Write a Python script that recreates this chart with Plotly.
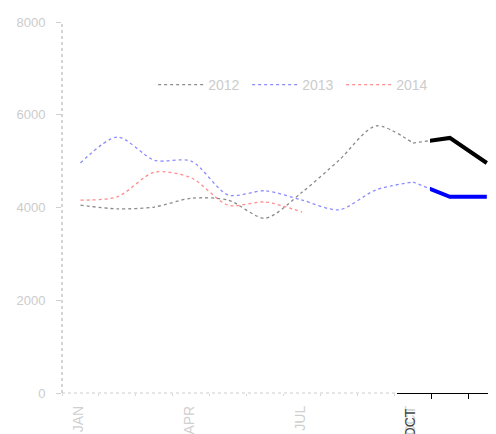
import plotly.graph_objects as go

months = ["JAN", "FEB", "MAR", "APR", "MAY", "JUN", "JUL", "AUG", "SEP", "OCT", "NOV", "DEC"]
years = ["2012", "2013", "2014"]
values_2012 = [4050, 3970, 4010, 4200, 4160, 3770, 4330, 5020, 5760, 5390, 5500, 4960]
values_2013 = [4960, 5520, 5020, 5000, 4270, 4360, 4160, 3950, 4380, 4550, 4230, 4230]
values_2014 = [4160, 4230, 4760, 4640, 4050, 4120, 3900]
y_ticks = [0, 2000, 4000, 6000, 8000]
label_months = ["JAN", "APR", "JUL", "OCT"]
highlight_months = ["OCT", "NOV", "DEC"]

idx = {m: i for i, m in enumerate(months)}
colors = {"2012": "black", "2013": "blue", "2014": "red"}
series = {"2012": values_2012, "2013": values_2013, "2014": values_2014}

FONT = "Liberation Sans, Arial, sans-serif"
fig = go.Figure()

last_dotted = idx["OCT"]
for yr in years:
    vals = series[yr]
    n = min(len(vals), last_dotted + 1)
    fig.add_trace(go.Scatter(
        x=list(range(n)), y=vals[:n], mode="lines", name=yr,
        line=dict(color=colors[yr], width=1.3, dash="dot", shape="spline", smoothing=0.8),
        opacity=0.45, hoverinfo="skip"))
    if len(vals) > last_dotted + 1:
        xs = list(range(last_dotted, len(vals)))
        fig.add_trace(go.Scatter(
            x=xs, y=vals[last_dotted:], mode="lines", showlegend=False,
            line=dict(color=colors[yr], width=1.3, dash="dot"),
            opacity=0.45, hoverinfo="skip"))

# bold highlighted segment
hx = [idx[m] for m in highlight_months]
for yr in ["2012", "2013"]:
    vals = series[yr]
    fig.add_trace(go.Scatter(
        x=hx, y=[vals[i] for i in hx], mode="lines", showlegend=False,
        line=dict(color=colors[yr], width=4), xaxis="x3", yaxis="y",
        hoverinfo="skip"))
fig.add_trace(go.Scatter(x=[None], y=[None], xaxis="x2", yaxis="y",
                         showlegend=False, hoverinfo="skip"))

W, H = 496, 434
L, R, T, B = 54, 8, 14, 49
plot_w = W - L - R
month_px = 36.94
x0 = -0.5
x1 = x0 + plot_w / month_px
d2 = 335 / plot_w
d3 = 368 / plot_w
r2 = x0 + 335 / month_px
r3 = x0 + 368 / month_px

boundaries = [i - 0.5 for i in range(len(months) + 1)]
tv = [idx[m] for m in label_months]

fig.update_layout(
    width=W, height=H, autosize=False,
    margin=dict(l=L, r=R, t=T, b=B, autoexpand=False),
    paper_bgcolor="white", plot_bgcolor="rgba(0,0,0,0)",
    font=dict(family=FONT),
    showlegend=True,
    legend=dict(orientation="h", x=0.21, xanchor="left", y=0.83, yanchor="middle",
                font=dict(size=14, color="#cccccc", family=FONT),
                bgcolor="rgba(0,0,0,0)", itemwidth=45,
                entrywidth=34, entrywidthmode="pixels"),
    xaxis=dict(range=[x0, x1], tickvals=tv, ticktext=label_months, tickangle=-90,
               ticks="", showgrid=False, zeroline=False, showline=False,
               automargin=False, ticklabelshift=-2,
               tickfont=dict(size=14, color="#d0d0d0"), ticklabelstandoff=9,
               minor=dict(tickmode="array", tickvals=boundaries, ticks="outside",
                          ticklen=2, tickcolor="#d8d8d8", showgrid=False)),
    xaxis2=dict(domain=[d2, 1], anchor="y", range=[r2, x1],
                tickvals=[idx["OCT"]], ticktext=["OCT"], tickangle=-90,
                ticks="", showgrid=False, zeroline=False, showline=True,
                linecolor="black", linewidth=1, automargin=False, ticklabelshift=-2,
                tickfont=dict(size=14, color="#444444"), ticklabelstandoff=9,
                minor=dict(tickmode="array", tickvals=boundaries, ticks="outside",
                           ticklen=5, tickcolor="black", showgrid=False)),
    xaxis3=dict(domain=[d3, 1], anchor="y", range=[r3, x1], visible=False),
    yaxis=dict(range=[0, 8000], tickvals=y_ticks, ticks="outside", ticklen=5,
               tickcolor="#d0d0d0", showgrid=False, zeroline=False, showline=False,
               automargin=False,
               tickfont=dict(size=13, color="#cccccc"), ticklabelstandoff=8),
    shapes=[
        dict(type="line", xref="paper", yref="paper", x0=0, x1=0, y0=0, y1=1,
             line=dict(color="#aaaaaa", width=1, dash="dot"), layer="below"),
        dict(type="line", xref="paper", yref="paper", x0=0, x1=d2, y0=0, y1=0,
             line=dict(color="#cccccc", width=1, dash="dot"), layer="below"),
    ],
)

fig.write_html("out.html")
